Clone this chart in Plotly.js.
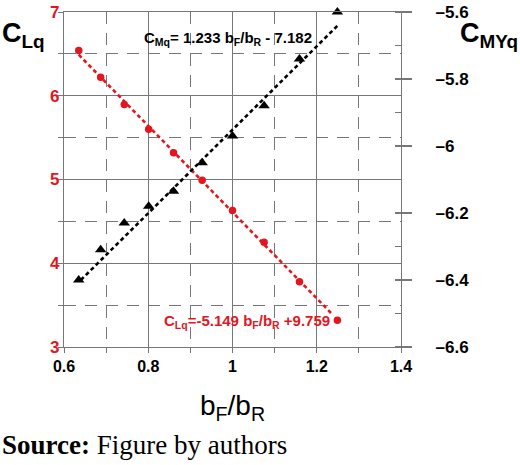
<!DOCTYPE html>
<html>
<head>
<meta charset="utf-8">
<script src="https://cdn.plot.ly/plotly-3.0.1.min.js"></script>
<style>html,body{margin:0;padding:0;background:#fff;}#chart{width:520px;height:465px;}</style>
</head>
<body>
<div id="chart"></div>
<script>
// Data
const ratioBF_BR = [0.635, 0.687, 0.743, 0.801, 0.860, 0.928, 1.000, 1.075, 1.159, 1.249];
const CLq  = [6.54, 6.22, 5.895, 5.60, 5.32, 4.99, 4.63, 4.25, 3.78, 3.32];
const CMYq = [-6.40, -6.31, -6.23, -6.18, -6.135, -6.05, -5.97, -5.88, -5.74, -5.60];
// Fitted trend line end points (as drawn in the figure)
const fitCLqX = [0.635, 1.235];
const fitCLqY = [6.49, 3.40];
const fitCMqX = [0.640, 1.250];
const fitCMqY = [-6.40, -5.64];
const xTicks = [0.6, 0.8, 1, 1.2, 1.4];
const leftTicks = [3, 4, 5, 6, 7];
const rightTicks = [-6.6, -6.4, -6.2, -6.0, -5.8, -5.6];

const RED = '#e3161f';
const GRID = '#777777';
const FONT = 'Liberation Sans, Arial, sans-serif';

const traces = [
  {x: fitCLqX, y: fitCLqY, mode: 'lines', yaxis: 'y',
   line: {color: RED, width: 2.6, dash: '4px,3px'}, hoverinfo: 'skip'},
  {x: ratioBF_BR, y: CLq, mode: 'markers', yaxis: 'y', cliponaxis: false,
   marker: {color: RED, size: 7.5, symbol: 'circle'}},
  {x: fitCMqX, y: fitCMqY, mode: 'lines', yaxis: 'y2',
   line: {color: '#000', width: 2.6, dash: '4px,3px'}, hoverinfo: 'skip'},
  {x: ratioBF_BR, y: CMYq, mode: 'markers', yaxis: 'y2', cliponaxis: false,
   marker: {color: '#000', size: 10, symbol: 'triangle-up'}}
];

const layout = {
  width: 520, height: 465,
  margin: {l: 64, r: 119, t: 12, b: 118, pad: 0},
  paper_bgcolor: '#fff', plot_bgcolor: '#fff',
  showlegend: false,
  font: {family: FONT, color: '#000'},
  xaxis: {
    range: [0.6, 1.4], tickvals: xTicks, ticktext: xTicks.map(String),
    showgrid: true, gridcolor: GRID, gridwidth: 1.2,
    showline: true, linecolor: GRID, linewidth: 1.2, mirror: true,
    ticks: 'outside', ticklen: 5, tickcolor: GRID,
    minor: {dtick: 0.1, tick0: 0.6, showgrid: true, gridcolor: GRID, griddash: '12px,9px', gridwidth: 1.2, ticks: 'outside', ticklen: 5, tickcolor: GRID},
    tickfont: {size: 16, weight: 'bold', color: '#000', family: FONT},
    zeroline: false, fixedrange: true
  },
  yaxis: {
    range: [3, 7], tickvals: leftTicks, ticktext: leftTicks.map(String),
    showgrid: true, gridcolor: GRID, gridwidth: 1.2,
    showline: true, linecolor: GRID, linewidth: 1.2,
    ticks: '',
    minor: {dtick: 0.5, tick0: 3, showgrid: true, gridcolor: GRID, griddash: '12px,9px', gridwidth: 1.2, ticks: 'outside', ticklen: 5, tickcolor: GRID},
    tickfont: {size: 17, weight: 'bold', color: RED, family: FONT},
    zeroline: false, fixedrange: true
  },
  yaxis2: {
    overlaying: 'y', side: 'right', anchor: 'x',
    range: [-6.6, -5.6], tickvals: rightTicks, ticktext: rightTicks.map(v => '\u2013' + Math.abs(v).toString()),
    showgrid: false, showline: true, linecolor: GRID, linewidth: 1.2,
    ticks: 'outside', ticklen: 10, tickcolor: GRID, tickwidth: 1.2, ticklabelstandoff: 20,
    minor: {dtick: 0.1, tick0: -6.6, ticks: 'inside', ticklen: 6, tickcolor: GRID, showgrid: false},
    tickfont: {size: 17, weight: 'bold', color: '#000', family: FONT},
    zeroline: false, fixedrange: true
  },
  annotations: [
    {xref: 'x', yref: 'y', x: 0.989, y: 6.685, showarrow: false, xanchor: 'center', yanchor: 'middle',
     text: 'C<sub>Mq</sub>= 1.233 b<sub>F</sub>/b<sub>R</sub> - 7.182',
     font: {size: 15, weight: 'bold', color: '#000', family: FONT}},
    {xref: 'x', yref: 'y', x: 1.035, y: 3.30, showarrow: false, xanchor: 'center', yanchor: 'middle',
     text: 'C<sub>Lq</sub>=-5.149 b<sub>F</sub>/b<sub>R</sub> +9.759',
     font: {size: 15, weight: 'bold', color: RED, family: FONT}},
    {xref: 'paper', yref: 'paper', x: -0.19, y: 0.93, showarrow: false, xanchor: 'left', yanchor: 'middle',
     text: 'C<sub>Lq</sub>', font: {size: 27, weight: 'bold', color: '#000', family: FONT}},
    {xref: 'paper', yref: 'paper', x: 1.17, y: 0.93, showarrow: false, xanchor: 'left', yanchor: 'middle',
     text: 'C<sub>MYq</sub>', font: {size: 27, weight: 'bold', color: '#000', family: FONT}},
    {xref: 'paper', yref: 'paper', x: 0.5, y: -0.18, showarrow: false, xanchor: 'center', yanchor: 'middle',
     text: 'b<sub>F</sub>/b<sub>R</sub>', font: {size: 28, color: '#000', family: FONT}},
    {xref: 'paper', yref: 'paper', x: -0.19, y: -0.2925, showarrow: false, xanchor: 'left', yanchor: 'middle',
     text: '<b>Source:</b> Figure by authors', font: {size: 27, color: '#000', family: 'Liberation Serif, Times New Roman, serif'}}
  ]
};

Plotly.newPlot('chart', traces, layout, {displayModeBar: false, staticPlot: true});
</script>
</body>
</html>
